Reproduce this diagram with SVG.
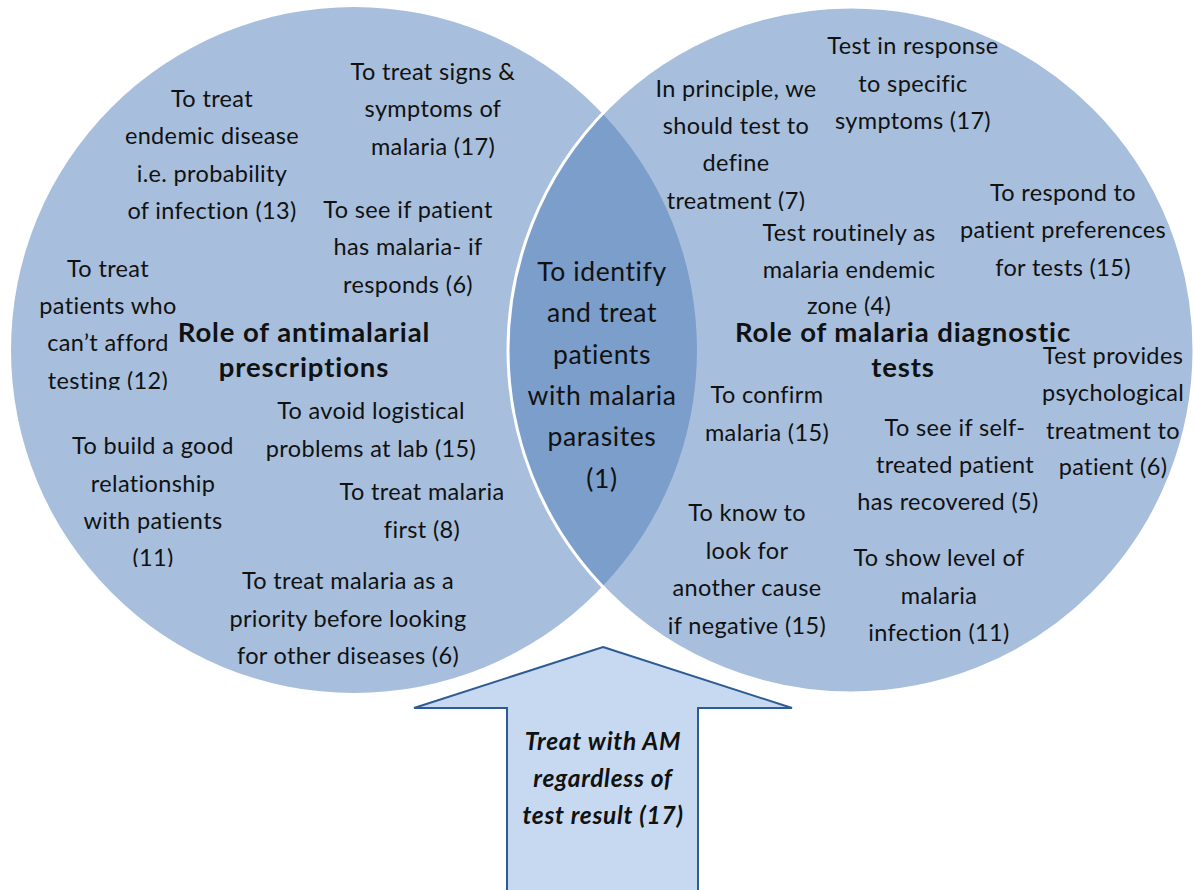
<svg xmlns="http://www.w3.org/2000/svg" width="1194" height="890" viewBox="0 0 1194 890">
<style>
.t{font-family:Lato,"Liberation Sans",sans-serif;font-size:23.5px;letter-spacing:0.35px;fill:#111;text-anchor:middle}
.b{font-family:Lato,"Liberation Sans",sans-serif;font-size:27.5px;letter-spacing:0.9px;font-weight:bold;fill:#111;text-anchor:middle}
.c{font-family:Lato,"Liberation Sans",sans-serif;font-size:26.5px;letter-spacing:0.6px;fill:#111;text-anchor:middle}
.a{font-family:Lato,"Liberation Sans",sans-serif;font-size:24.5px;letter-spacing:0.7px;font-weight:bold;font-style:italic;fill:#111;text-anchor:middle}
.circ{fill:#a7bfdd}
</style>
<defs>
<clipPath id="clipA"><rect x="0" y="0" width="1194" height="211"/></clipPath>
<clipPath id="clipB"><rect x="0" y="0" width="1194" height="390"/></clipPath>
<clipPath id="clipC"><rect x="0" y="0" width="1194" height="567"/></clipPath>
<clipPath id="clipD"><rect x="0" y="0" width="1194" height="316"/></clipPath>
</defs>
<rect width="1194" height="890" fill="#ffffff"/>
<g id="left-circle">
<circle class="circ" cx="354" cy="350" r="343"/>
</g>
<g id="right-circle">
<circle class="circ" cx="851" cy="350" r="343"/>
</g>
<g id="overlap">
<path d="M602.5 113.6 A343 343 0 0 0 602.5 586.4 A343 343 0 0 0 602.5 113.6 Z" fill="#7b9ecb"/>
<circle cx="851" cy="350" r="343" fill="none" stroke="#ffffff" stroke-width="3"/>
</g>
<g id="connectors"></g>
<g id="label-left-title">
<text class="b" x="304" y="342">Role of antimalarial</text>
<text class="b" x="304" y="377">prescriptions</text>
</g>
<g id="n-endemic">
<text class="t" x="212" y="107">To treat</text>
<text class="t" x="212" y="144">endemic disease</text>
<text class="t" x="212" y="182">i.e. probability</text>
<text class="t" x="212" y="219">of infection (13)</text>
</g>
<g id="n-signs">
<text class="t" x="433" y="80">To treat signs &amp;</text>
<text class="t" x="433" y="117">symptoms of</text>
<text class="t" x="433" y="155">malaria (17)</text>
</g>
<g id="n-see-if">
<text class="t" x="408" y="218">To see if patient</text>
<text class="t" x="408" y="255">has malaria- if</text>
<text class="t" x="408" y="293">responds (6)</text>
</g>
<g id="n-afford">
<text class="t" x="108" y="277">To treat</text>
<text class="t" x="108" y="314">patients who</text>
<text class="t" x="108" y="351">can’t afford</text>
<text class="t" x="108" y="389" clip-path="url(#clipB)">testing (12)</text>
</g>
<g id="n-logistical">
<text class="t" x="371" y="419">To avoid logistical</text>
<text class="t" x="371" y="457">problems at lab (15)</text>
</g>
<g id="n-relationship">
<text class="t" x="153" y="454">To build a good</text>
<text class="t" x="153" y="492">relationship</text>
<text class="t" x="153" y="529">with patients</text>
<text class="t" x="153" y="566" clip-path="url(#clipC)">(11)</text>
</g>
<g id="n-first">
<text class="t" x="422" y="500">To treat malaria</text>
<text class="t" x="422" y="538">first (8)</text>
</g>
<g id="n-priority">
<text class="t" x="348" y="589">To treat malaria as a</text>
<text class="t" x="348" y="627">priority before looking</text>
<text class="t" x="348" y="664">for other diseases (6)</text>
</g>
<g id="n-identify">
<text class="c" x="602" y="281">To identify</text>
<text class="c" x="602" y="322">and treat</text>
<text class="c" x="602" y="364">patients</text>
<text class="c" x="602" y="405">with malaria</text>
<text class="c" x="602" y="446">parasites</text>
<text class="c" x="602" y="488">(1)</text>
</g>
<g id="label-right-title">
<text class="b" x="903" y="342">Role of malaria  diagnostic</text>
<text class="b" x="903" y="377">tests</text>
</g>
<g id="n-response">
<text class="t" x="913" y="54">Test in response</text>
<text class="t" x="913" y="92">to specific</text>
<text class="t" x="913" y="129">symptoms (17)</text>
</g>
<g id="n-principle">
<text class="t" x="736" y="97">In principle, we</text>
<text class="t" x="736" y="134">should test to</text>
<text class="t" x="736" y="171">define</text>
<text class="t" x="736" y="209" clip-path="url(#clipA)">treatment (7)</text>
</g>
<g id="n-routinely">
<text class="t" x="849" y="241">Test routinely as</text>
<text class="t" x="849" y="278">malaria endemic</text>
<text class="t" x="849" y="314" clip-path="url(#clipD)">zone (4)</text>
</g>
<g id="n-preferences">
<text class="t" x="1063" y="201">To respond to</text>
<text class="t" x="1063" y="238">patient preferences</text>
<text class="t" x="1063" y="276">for tests (15)</text>
</g>
<g id="n-psych">
<text class="t" x="1113" y="364">Test provides</text>
<text class="t" x="1113" y="401">psychological</text>
<text class="t" x="1113" y="439">treatment to</text>
<text class="t" x="1113" y="475">patient (6)</text>
</g>
<g id="n-confirm">
<text class="t" x="767" y="403">To confirm</text>
<text class="t" x="767" y="441">malaria (15)</text>
</g>
<g id="n-self">
<text class="t" x="955" y="436">To see if self-</text>
<text class="t" x="955" y="473">treated patient</text>
<text class="t" x="948" y="510">has recovered (5)</text>
</g>
<g id="n-another">
<text class="t" x="747" y="521">To know to</text>
<text class="t" x="747" y="559">look for</text>
<text class="t" x="747" y="596">another cause</text>
<text class="t" x="747" y="634">if negative (15)</text>
</g>
<g id="n-level">
<text class="t" x="939" y="566">To show level of</text>
<text class="t" x="939" y="604">malaria</text>
<text class="t" x="939" y="641">infection (11)</text>
</g>
<g id="arrow">
<polygon points="603,647 792,708 698,708 698,895 507,895 507,708 414,708" fill="#c6d9f0" stroke="#2e5c92" stroke-width="2"/>
<text class="a" x="603" y="750">Treat with AM</text>
<text class="a" x="603" y="787">regardless of</text>
<text class="a" x="603" y="824">test result (17)</text>
</g>
</svg>
